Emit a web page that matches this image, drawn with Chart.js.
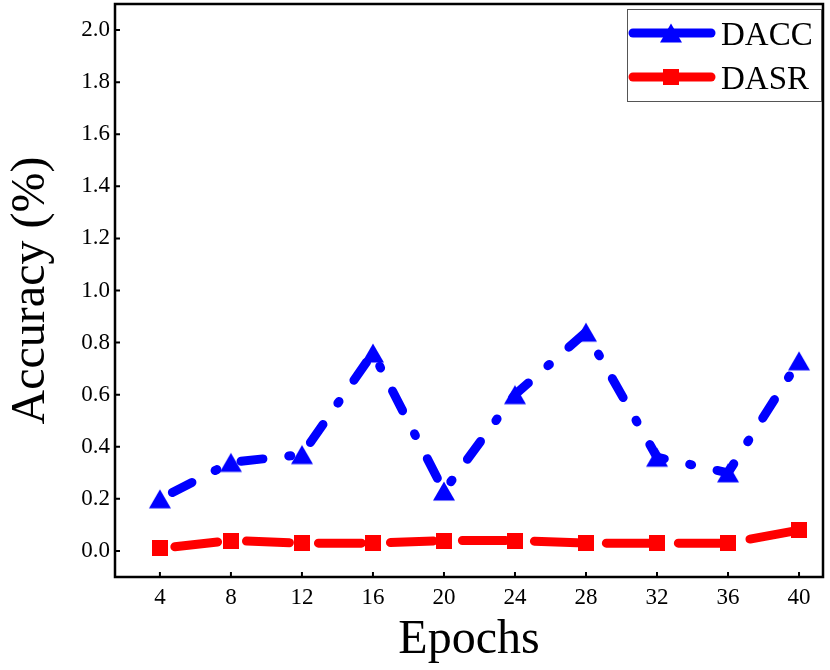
<!DOCTYPE html>
<html>
<head>
<meta charset="utf-8">
<script src="https://cdn.jsdelivr.net/npm/chart.js@4.4.1/dist/chart.umd.min.js"></script>
<style>
  html, body { margin: 0; padding: 0; background: #fff; }
  #wrap { width: 830px; height: 670px; }
</style>
</head>
<body>
<div id="wrap"><canvas id="accChart"></canvas></div>
<script>
// data
const epochs = [4, 8, 12, 16, 20, 24, 28, 32, 36, 40];
const daccValues = [0.20, 0.34, 0.37, 0.76, 0.23, 0.60, 0.84, 0.36, 0.30, 0.73];
const dasrValues = [0.01, 0.04, 0.03, 0.03, 0.04, 0.04, 0.03, 0.03, 0.03, 0.08];
const yTickValues = [0.0, 0.2, 0.4, 0.6, 0.8, 1.0, 1.2, 1.4, 1.6, 1.8, 2.0];
const seriesNames = ['DACC', 'DASR'];

const serif = '"Liberation Serif", "Times New Roman", serif';

// matplotlib-like markers (centred on their bounding box)
function triangleMarker(color) {
  const c = document.createElement('canvas');
  c.width = 24; c.height = 22;
  const g = c.getContext('2d');
  g.fillStyle = color;
  g.beginPath();
  g.moveTo(12, 1.5); g.lineTo(23, 20.5); g.lineTo(1, 20.5);
  g.closePath(); g.fill();
  return c;
}
function squareMarker(color) {
  const c = document.createElement('canvas');
  c.width = 16; c.height = 16;
  const g = c.getContext('2d');
  g.fillStyle = color;
  g.fillRect(0, 0, 16, 16);
  return c;
}
const blueTri = triangleMarker('#0000ff');
const redSq = squareMarker('#ff0000');

// the plot box is fixed, no extra room for the edge labels
function noEdgePadding(s) {
  s.paddingLeft = 0; s.paddingRight = 0;
  s.paddingTop = 0; s.paddingBottom = 0;
}

// frame, inward ticks and the boxed legend
const framePlugin = {
  id: 'frame',
  afterDraw(chart) {
    const { ctx, chartArea: a, scales } = chart;
    ctx.save();
    ctx.strokeStyle = '#000';
    ctx.lineWidth = 2.5;
    ctx.strokeRect(a.left, a.top, a.right - a.left, a.bottom - a.top);
    ctx.lineWidth = 2;
    ctx.beginPath();
    yTickValues.forEach(v => {
      const py = scales.y.getPixelForValue(v);
      ctx.moveTo(a.left, py); ctx.lineTo(a.left + 5, py);
    });
    epochs.forEach(v => {
      const px = scales.x.getPixelForValue(v);
      ctx.moveTo(px, a.bottom); ctx.lineTo(px, a.bottom - 5);
    });
    ctx.stroke();

    // legend
    ctx.strokeStyle = '#555';
    ctx.lineWidth = 1;
    ctx.fillStyle = '#fff';
    ctx.fillRect(627.5, 9.5, 194, 92);
    ctx.strokeRect(627.5, 9.5, 194, 92);
    chart.data.datasets.forEach((ds, i) => {
      const ly = 33 + i * 44;
      ctx.strokeStyle = ds.borderColor;
      ctx.lineWidth = 9;
      ctx.lineCap = 'round';
      ctx.beginPath();
      ctx.moveTo(633, ly); ctx.lineTo(711, ly);
      ctx.stroke();
      const m = ds.pointStyle;
      ctx.drawImage(m, 671 - m.width / 2, ly - m.height / 2);
      ctx.fillStyle = '#000';
      ctx.font = '33px ' + serif;
      ctx.textBaseline = 'alphabetic';
      ctx.fillText(ds.label, 721, ly + 12);
    });
    ctx.restore();
  }
};

new Chart(document.getElementById('accChart'), {
  type: 'line',
  data: {
    datasets: [
      {
        label: seriesNames[0],
        data: epochs.map((e, i) => ({ x: e, y: daccValues[i] })),
        borderColor: '#0000ff',
        backgroundColor: '#0000ff',
        borderWidth: 9,
        borderDash: [22, 26, 2, 26],
        borderDashOffset: 62,
        borderCapStyle: 'round',
        borderJoinStyle: 'round',
        pointStyle: blueTri,
        pointRadius: 11,
        tension: 0
      },
      {
        label: seriesNames[1],
        data: epochs.map((e, i) => ({ x: e, y: dasrValues[i] })),
        borderColor: '#ff0000',
        backgroundColor: '#ff0000',
        borderWidth: 9,
        borderDash: [43, 29],
        borderDashOffset: 57,
        borderCapStyle: 'round',
        borderJoinStyle: 'round',
        pointStyle: redSq,
        pointRadius: 11,
        tension: 0
      }
    ]
  },
  options: {
    responsive: true,
    maintainAspectRatio: false,
    animation: false,
    events: [],
    layout: { autoPadding: false, padding: { left: 0, top: 4, right: 7, bottom: 0 } },
    plugins: { legend: { display: false }, tooltip: { enabled: false } },
    scales: {
      x: {
        type: 'linear',
        min: 1.47,
        max: 41.35,
        afterBuildTicks: s => { s.ticks = epochs.map(v => ({ value: v })); },
        afterFit: s => { s.height = 93; noEdgePadding(s); },
        grid: { display: false, drawTicks: false, tickLength: 0 },
        border: { display: false },
        ticks: {
          padding: 7,
          color: '#000',
          font: { family: serif, size: 23 },
          callback: v => String(v)
        },
        title: {
          display: true,
          text: 'Epochs',
          color: '#000',
          font: { family: serif, size: 48 },
          padding: { top: 0, bottom: 1 }
        }
      },
      y: {
        min: -0.1,
        max: 2.1,
        afterBuildTicks: s => { s.ticks = yTickValues.map(v => ({ value: v })); },
        afterFit: s => { s.width = 115; noEdgePadding(s); },
        grid: { display: false, drawTicks: false, tickLength: 0 },
        border: { display: false },
        ticks: {
          padding: 5,
          color: '#000',
          font: { family: serif, size: 23 },
          callback: v => Number(v).toFixed(1)
        },
        title: {
          display: true,
          text: 'Accuracy (%)',
          color: '#000',
          font: { family: serif, size: 48 },
          padding: { top: 3, bottom: 0 }
        }
      }
    }
  },
  plugins: [framePlugin]
});
</script>
</body>
</html>
